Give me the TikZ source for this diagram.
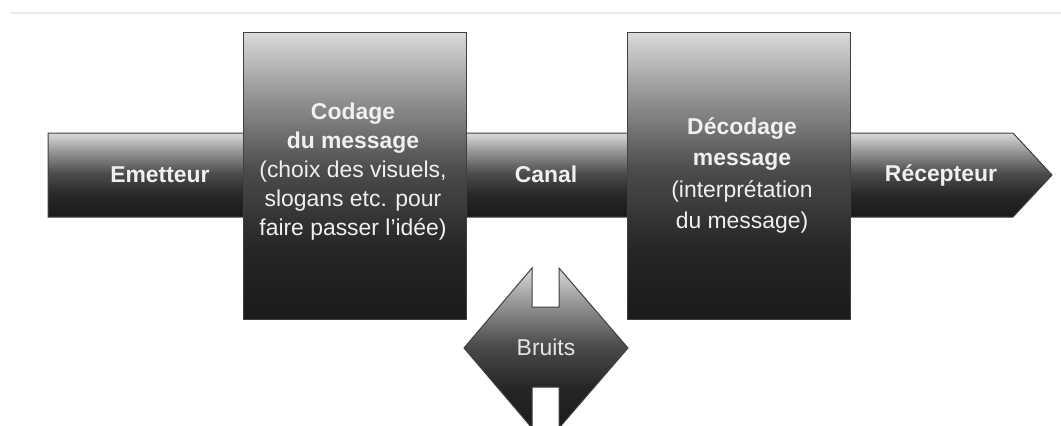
\documentclass[tikz,border=0pt]{standalone}
\usepackage{fontspec}
\setmainfont{Liberation Sans}
\definecolor{txt}{HTML}{F0F0F0}
\definecolor{edge}{HTML}{404040}
\definecolor{topline}{HTML}{ECECEC}
\definecolor{s0}{HTML}{1A1A1A}
\definecolor{s1}{HTML}{272727}
\definecolor{s2}{HTML}{4C4C4C}
\definecolor{s3}{HTML}{959595}
\definecolor{s4}{HTML}{DADADA}
\pgfdeclareverticalshading{grad}{100bp}{color(0bp)=(s0); color(25bp)=(s0); color(38bp)=(s1); color(51bp)=(s2); color(64bp)=(s3); color(75bp)=(s4); color(100bp)=(s4)}
\tikzset{
  shapefill/.style={shading=grad, draw=edge, line width=1bp},
  lbl/.style={text=txt, inner sep=0pt, font=\fontsize{23}{29.3}\selectfont},
  hd/.style={lbl, font=\fontsize{23}{29.3}\selectfont\bfseries},
  boxnode/.style={shapefill, rectangle, inner sep=0pt, minimum width=223bp, minimum height=287bp}
}
\begin{document}
\begin{tikzpicture}[x=1bp, y=-1bp]
\useasboundingbox (0,0) rectangle (1061,425);
% faint top rule
\coordinate (tl) at (10,13);
\coordinate (tr) at (1061,13);
\draw[topline, line width=1.5bp] (tl) -- (tr);
% main arrow band
\draw[shapefill] (48,133) -- (1013,133) -- (1052,175) -- (1013,217) -- (48,217) -- cycle;
% boxes
\node[boxnode] (codbox) at (354.5,175.5) {};
\node[boxnode] (decbox) at (738.5,175.5) {};
% noise shape
\draw[shapefill] (464,348) -- (532,268) -- (532,307) -- (559,307) -- (559,268) -- (628,348)
  -- (559,428) -- (559,387) -- (532,387) -- (532,428) -- cycle;
% labels
\node[hd] (emet) at (160,175) {Emetteur};
\node[hd] (canal) at (546,174) {Canal};
\node[hd] (recep) at (941,175) {Récepteur};
\node[lbl, align=center] (codt) at (353,171.5) {\textbf{Codage}\\\textbf{du message}\\(choix des visuels,\\slogans etc. pour\\faire passer l’idée)};
\node[lbl, align=center, font=\fontsize{23}{31.7}\selectfont] (dect) at (742,175.5) {\textbf{Décodage}\\\textbf{message}\\(interprétation\\du message)};
\node[lbl, text=txt!90!gray] (bruit) at (546,347) {Bruits};
\end{tikzpicture}
\end{document}
